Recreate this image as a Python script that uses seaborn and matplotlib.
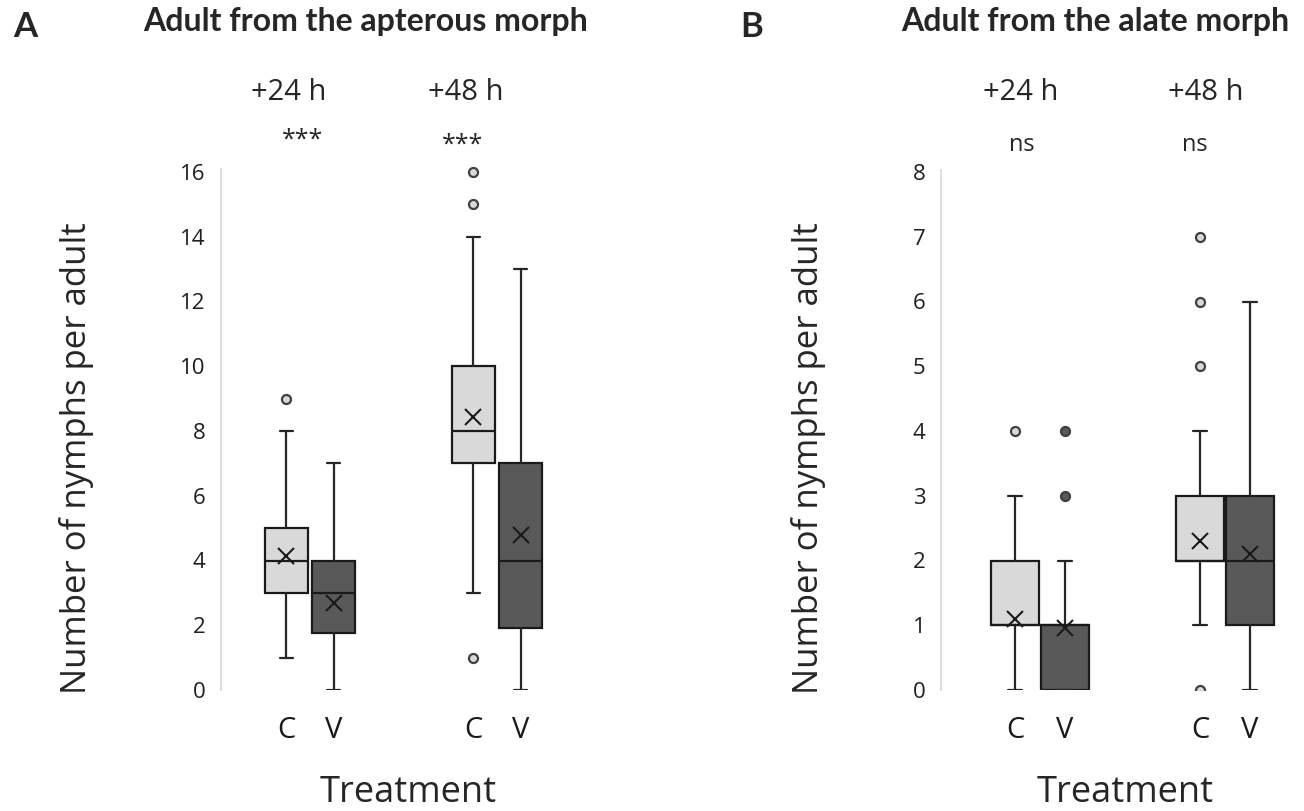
import matplotlib
matplotlib.use("Agg")
import matplotlib.pyplot as plt
import seaborn as sns

sns.set_style("white")
plt.rcParams["font.family"] = ["Open Sans", "DejaVu Sans"]

# ---------------- data (order: C +24h, V +24h, C +48h, V +48h) ----------------
times = ["+24 h", "+48 h"]
treatments = ["C", "V"]

# Panel A: adult from the apterous morph
a_whislo = [1, 0, 3, 0]
a_q1 = [3, 1.75, 7, 1.9]
a_med = [4, 3, 8, 4]
a_q3 = [5, 4, 10, 7]
a_whishi = [8, 7, 14, 13]
a_mean = [4.15, 2.7, 8.43, 4.8]
a_fliers = [[9], [], [16, 15, 1], []]
a_signif = ["***", "***"]

# Panel B: adult from the alate morph
b_whislo = [0, 0, 1, 0]
b_q1 = [1, 0, 2, 1]
b_med = [1, 1, 2, 2]
b_q3 = [2, 1, 3, 3]
b_whishi = [3, 2, 4, 6]
b_mean = [1.1, 0.96, 2.3, 2.1]
b_fliers = [[4], [4, 3], [7, 6, 5, 0], []]
b_signif = ["ns", "ns"]

W, H = 1304, 811
fig = plt.figure(figsize=(W / 100, H / 100), dpi=100)

C_COL = "#d9d9d9"
V_COL = "#595959"


def px_axes(left, right, top, bottom):
    return fig.add_axes([left / W, 1 - bottom / H, (right - left) / W, (bottom - top) / H])


def ptext(x, y, s, **kw):
    kw.setdefault("ha", "center")
    kw.setdefault("va", "center")
    fig.text(x / W, 1 - y / H, s, **kw)


def draw_panel(ax, whislo, q1, med, q3, whishi, mean, fliers, offset, width, capw, ymax, ytop, spine_top):
    stats = []
    for i in range(4):
        stats.append(dict(whislo=whislo[i], q1=q1[i], med=med[i], q3=q3[i],
                          whishi=whishi[i], mean=mean[i], fliers=fliers[i]))
    positions = []
    for g in range(len(times)):
        for t in range(len(treatments)):
            positions.append(g + (-offset if t == 0 else offset))
    res = ax.bxp(stats, positions=positions, widths=width, patch_artist=True,
                 showmeans=True, showfliers=True, capwidths=capw,
                 boxprops=dict(edgecolor="#1a1a1a", linewidth=1.6),
                 medianprops=dict(color="#1a1a1a", linewidth=1.6),
                 whiskerprops=dict(color="#262626", linewidth=1.6),
                 capprops=dict(color="#262626", linewidth=1.6),
                 meanprops=dict(marker="x", markersize=11, markeredgecolor="#1a1a1a",
                                markeredgewidth=1.5, linestyle="none"),
                 flierprops=dict(marker="o", markersize=6.5, markeredgecolor="#404040",
                                 markeredgewidth=1.6, linestyle="none"))
    for i, box in enumerate(res["boxes"]):
        col = C_COL if i % 2 == 0 else V_COL
        box.set_facecolor(col)
        res["fliers"][i].set_markerfacecolor(col)
    ax.set_ylim(0, ytop)
    ax.set_yticks(range(0, ymax + 1, 2 if ymax > 8 else 1))
    ax.tick_params(axis="y", length=0, pad=11, labelsize=16, labelcolor="#1f1f1f")
    ax.set_xticks([])
    for s in ["top", "right", "bottom"]:
        ax.spines[s].set_visible(False)
    ax.spines["left"].set_color("#d9d9d9")
    ax.spines["left"].set_linewidth(1.3)
    ax.spines["left"].set_bounds(0, spine_top)
    ax.patch.set_alpha(0)
    return positions


# Panel A axes: spine at x=221, group centres at x=310 and 497 px, y 0 at 690 px, 16 at 172 px
axA = px_axes(221, 580, 160, 690)
axA.set_xlim((221 - 310) / 187, (580 - 310) / 187)
posA = draw_panel(axA, a_whislo, a_q1, a_med, a_q3, a_whishi, a_mean, a_fliers,
                  0.127, 0.23, 0.067, 16, (690 - 160) / 32.375, 16.1)

# Panel B axes: spine at x=941, group centres at 1040 and 1225 px
axB = px_axes(941, 1300, 160, 690)
axB.set_xlim((941 - 1040) / 185, (1300 - 1040) / 185)
posB = draw_panel(axB, b_whislo, b_q1, b_med, b_q3, b_whishi, b_mean, b_fliers,
                  0.135, 0.255, 0.075, 8, (690 - 160) / 64.75, 8.03)

# x category labels
for ax, pos in [(axA, posA), (axB, posB)]:
    for i, p in enumerate(pos):
        xpix, _ = ax.transData.transform((p, 0))
        ptext(xpix, 731, treatments[i % 2], fontsize=21, color="#1a1a1a")

# panel letters and titles
ptext(25, 27, "A", family=["Lato", "DejaVu Sans"], fontweight="bold", fontsize=25)
ptext(752, 27, "B", family=["Lato", "DejaVu Sans"], fontweight="bold", fontsize=25)
ptext(366, 22, "Adult from the apterous morph", family=["Lato", "DejaVu Sans"], fontweight="bold", fontsize=23)
ptext(1095, 22, "Adult from the alate morph", family=["Lato", "DejaVu Sans"], fontweight="bold", fontsize=23)

# time headings
ptext(289, 92, times[0], fontsize=21)
ptext(466, 92, times[1], fontsize=21)
ptext(1021, 92, times[0], fontsize=21)
ptext(1206, 92, times[1], fontsize=21)

# significance labels
ptext(303, 140, a_signif[0], fontsize=18)
ptext(463, 145, a_signif[1], fontsize=18)
ptext(1022, 145, b_signif[0], fontsize=17)
ptext(1195, 145, b_signif[1], fontsize=17)

# axis titles
ptext(77, 458, "Number of nymphs per adult", rotation=90, fontsize=25)
ptext(808, 458, "Number of nymphs per adult", rotation=90, fontsize=25)
ptext(408, 793, "Treatment", fontsize=26)
ptext(1125, 793, "Treatment", fontsize=26)

fig.savefig("out.png", dpi=100)
